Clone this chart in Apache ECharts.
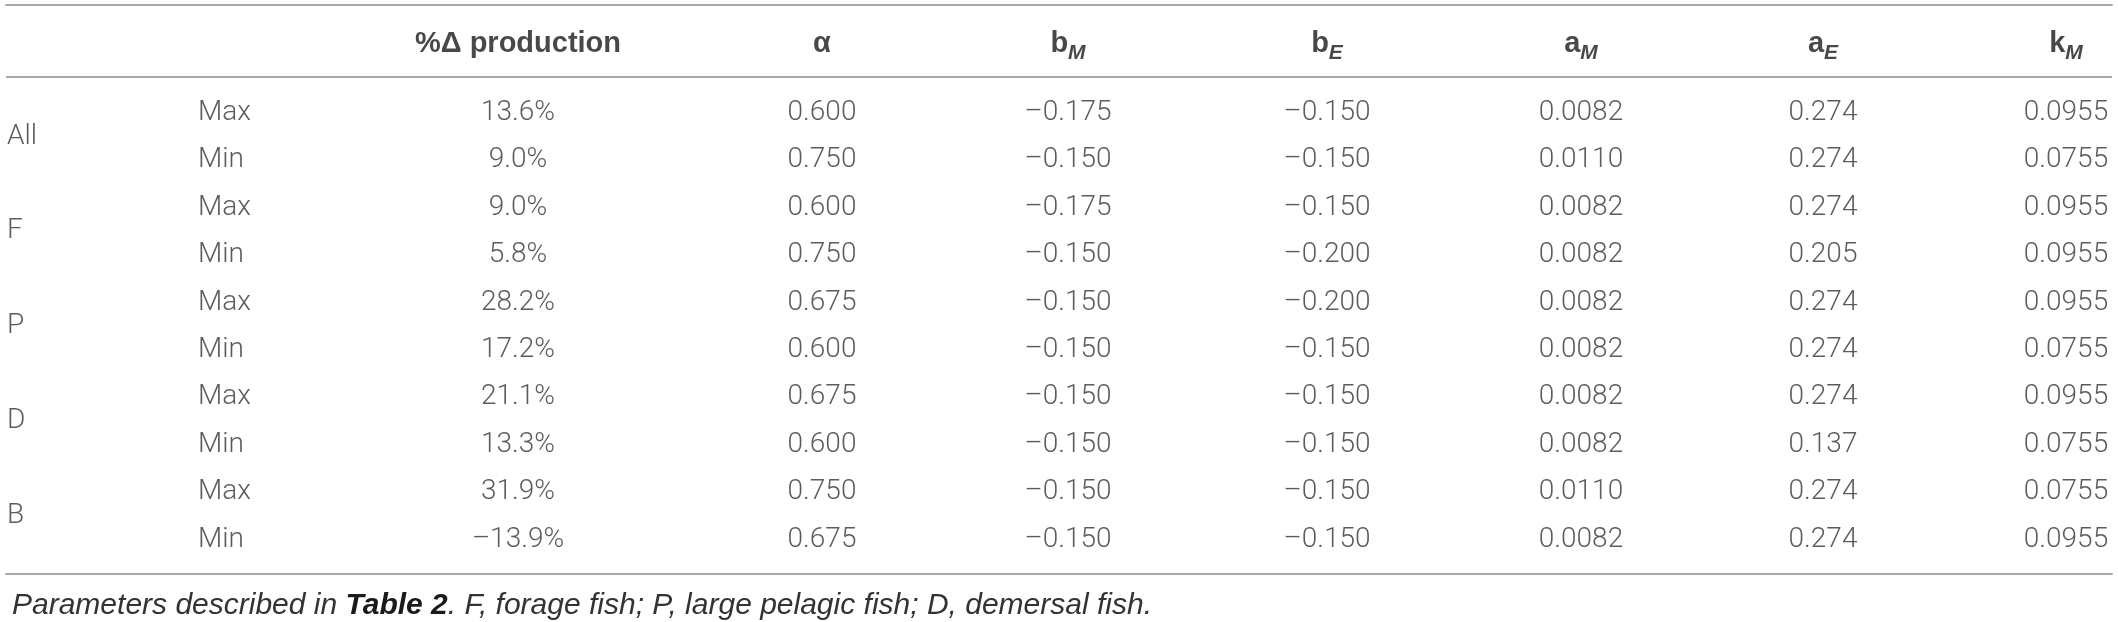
<!DOCTYPE html>
<html><head><meta charset="utf-8">
<script src="https://cdn.jsdelivr.net/npm/echarts@6/dist/echarts.min.js"></script>
<style>html,body{margin:0;padding:0;background:#fff}#c{width:2118px;height:622px}</style>
</head><body><div id="c"></div>
<script>
// ---- data ----
const groups = ['All', 'F', 'P', 'D', 'B'];
const cases = ['Max', 'Min'];
const headerMain = ['%\u0394 production', '\u03b1', 'b', 'b', 'a', 'a', 'k'];
const headerSub = ['', '', 'M', 'E', 'M', 'E', 'M'];
const pctChange = [13.6, 9.0, 9.0, 5.8, 28.2, 17.2, 21.1, 13.3, 31.9, -13.9];
const alpha = [0.600, 0.750, 0.600, 0.750, 0.675, 0.600, 0.675, 0.600, 0.750, 0.675];
const bM = [-0.175, -0.150, -0.175, -0.150, -0.150, -0.150, -0.150, -0.150, -0.150, -0.150];
const bE = [-0.150, -0.150, -0.150, -0.200, -0.200, -0.150, -0.150, -0.150, -0.150, -0.150];
const aM = [0.0082, 0.0110, 0.0082, 0.0082, 0.0082, 0.0082, 0.0082, 0.0082, 0.0110, 0.0082];
const aE = [0.274, 0.274, 0.274, 0.205, 0.274, 0.274, 0.274, 0.137, 0.274, 0.274];
const kM = [0.0955, 0.0755, 0.0955, 0.0955, 0.0955, 0.0755, 0.0955, 0.0755, 0.0755, 0.0955];
const captionParts = ['Parameters described in ', 'Table 2', '. F, forage fish; P, large pelagic fish; D, demersal fish.'];

// ---- layout (not data) ----
const colX = [518, 822, 1068, 1327, 1581, 1823, 2066];
const groupX = 7, caseX = 198;
const headerY = -1.38, headerRuleY = -0.76;
const FONT = 'Roboto, "Liberation Sans", sans-serif';
const HFONT = '"Liberation Sans", Arial, sans-serif';
const TXT = '#333';

const fmt = (v, d, suffix) => {
  const s = Math.abs(v).toFixed(d) + (suffix || '');
  return v < 0 ? '\u2013' + s : s;
};
const columns = [
  pctChange.map(v => fmt(v, 1, '%')),
  alpha.map(v => fmt(v, 3)),
  bM.map(v => fmt(v, 3)),
  bE.map(v => fmt(v, 3)),
  aM.map(v => fmt(v, 4)),
  aE.map(v => fmt(v, 3)),
  kM.map(v => fmt(v, 4))
];
const nRows = groups.length * cases.length;

const baseLabel = {
  show: true, position: 'inside', fontFamily: FONT, fontSize: 28, fontWeight: 300,
  color: TXT, verticalAlign: 'middle'
};
const textSeries = (name, data, labelExtra) => ({
  type: 'scatter', name, data, symbolSize: 1, silent: true, clip: false,
  itemStyle: { color: 'rgba(0,0,0,0)' },
  label: Object.assign({}, baseLabel, { formatter: p => p.value[2] }, labelExtra || {})
});

const series = [];
series.push(textSeries('groups', groups.map((g, i) => [groupX, i * cases.length + (cases.length - 1) / 2, g]), { align: 'left' }));
series.push(textSeries('cases', Array.from({ length: nRows }, (_, i) => [caseX, i, cases[i % cases.length]]), { align: 'left' }));
columns.forEach((col, c) => {
  series.push(textSeries('col' + c, col.map((t, r) => [colX[c], r, t]), { align: 'center' }));
});
series.push({
  type: 'scatter', name: 'header', symbolSize: 1, silent: true, clip: false,
  itemStyle: { color: 'rgba(0,0,0,0)' },
  data: headerMain.map((h, c) => [colX[c], headerY, h, headerSub[c]]),
  label: {
    show: true, position: 'inside', align: 'center', verticalAlign: 'middle',
    formatter: p => p.value[3] ? '{m|' + p.value[2] + '}{s|' + p.value[3] + '}' : '{m|' + p.value[2] + '}',
    rich: {
      m: { fontFamily: HFONT, fontSize: 29, fontWeight: 'bold', color: '#1a1a1a', lineHeight: 32, padding: [0, 0, 8, 0] },
      s: { fontFamily: HFONT, fontSize: 21, fontWeight: 'bold', fontStyle: 'italic', color: '#1a1a1a', lineHeight: 22, verticalAlign: 'bottom' }
    }
  },
  markLine: {
    silent: true, symbol: 'none', animation: false,
    label: { show: false },
    lineStyle: { color: '#a8a8a8', width: 2, type: 'solid' },
    data: [{ yAxis: headerRuleY }]
  }
});

const axisLineStyle = { show: true, onZero: false, lineStyle: { color: '#a8a8a8', width: 2 } };
const chart = echarts.init(document.getElementById('c'));
chart.setOption({
  animation: false,
  backgroundColor: '#fff',
  title: {
    left: 7, top: 586,
    text: '{i|' + captionParts[0] + '}{b|' + captionParts[1] + '}{i|' + captionParts[2] + '}',
    textStyle: {
      rich: {
        i: { fontFamily: HFONT, fontSize: 30, fontStyle: 'italic', fontWeight: 'normal', color: TXT },
        b: { fontFamily: HFONT, fontSize: 30, fontStyle: 'italic', fontWeight: 'bold', color: '#1a1a1a' }
      }
    }
  },
  grid: { left: 6, right: 6, top: 5, bottom: 48 },
  xAxis: [
    { type: 'value', position: 'top', min: 6, max: 2112, axisLine: axisLineStyle, axisTick: { show: false }, axisLabel: { show: false }, splitLine: { show: false } },
    { type: 'value', position: 'bottom', min: 6, max: 2112, axisLine: axisLineStyle, axisTick: { show: false }, axisLabel: { show: false }, splitLine: { show: false } }
  ],
  yAxis: { type: 'value', inverse: true, min: -2.278, max: 9.726, show: false },
  series
});
</script></body></html>
